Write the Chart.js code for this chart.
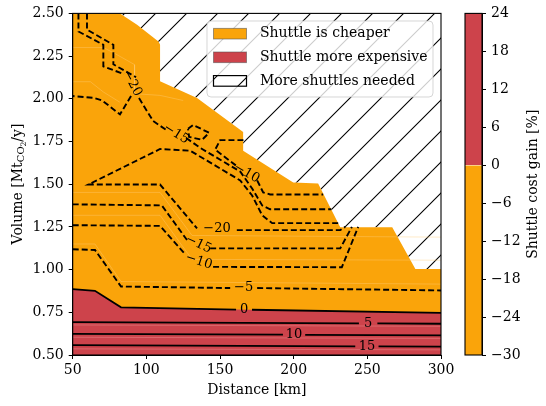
<!DOCTYPE html>
<html>
<head>
<meta charset="utf-8">
<script src="https://cdn.jsdelivr.net/npm/chart.js@4.4.1/dist/chart.umd.min.js"></script>
<style>
  html, body { margin: 0; padding: 0; background: #fff; }
  #wrap { position: relative; width: 546px; height: 406px; }
  #wrap canvas { position: absolute; left: 0; top: 0; }
</style>
</head>
<body>
<div id="wrap">
  <canvas id="main" width="546" height="406"></canvas>
  <canvas id="cbar" width="546" height="406"></canvas>
</div>
<script>
// ---- axes ----
const xTicks = [50, 100, 150, 200, 250, 300];
const yTicks = [0.5, 0.75, 1.0, 1.25, 1.5, 1.75, 2.0, 2.25, 2.5];
const cbarTicks = [-30, -24, -18, -12, -6, 0, 6, 12, 18, 24];

// ---- regions (distance km, volume Mt/y) ----
// upper edge of the feasible area; above it more shuttles are needed
const feasibleEdge = [[50, 2.5], [82.1, 2.5], [93.7, 2.434], [108.2, 2.335], [109.3, 2.318], [109.3, 2.103],
  [134.4, 2.004], [165.7, 1.806], [165.7, 1.696], [199.7, 1.51], [216.6, 1.504], [231.6, 1.248],
  [266.9, 1.248], [282.6, 1.004], [300, 1.004]];

// ---- contour lines (null = break for the inline label) ----
const lvlM20a = [[53.9, 2.5], [53.9, 2.394], [70.8, 2.316], [70.8, 2.19], [84.9, 2.144], null,
  [89.6, 2.016], [82.1, 1.909], [70, 1.99], [64.0, 2.006], [50, 2.016]];
const lvlM15a = [[59.7, 2.5], [59.7, 2.405], [77.6, 2.316], [77.6, 2.202], [93.0, 2.126], null,
  [95.0, 2.004], [104.6, 1.87], [113.4, 1.818], null,
  [127.0, 1.771], [136.5, 1.713], [163.7, 1.574], [171.8, 1.475], [178.6, 1.376], [184.0, 1.353], [225.5, 1.353]];
const lvlM15loop = [[128.3, 1.824], [131.7, 1.847], [142.6, 1.801], [137.8, 1.76], [129.0, 1.777], [128.3, 1.824]];
const lvlM10a = [[165.9, 1.758], [150.1, 1.758], [146.7, 1.702], [160.9, 1.609], null,
  [175.2, 1.522], [179.3, 1.452], [184.0, 1.44], [220.0, 1.44]];
const lvlM20b = [[230.2, 1.272], [185.4, 1.272], [178.6, 1.318], [171.8, 1.434], [163.7, 1.522], [141.2, 1.638],
  [129.7, 1.696], [109.3, 1.706], [60.6, 1.498], [109.3, 1.498], [134.4, 1.241], null,
  [161.4, 1.231], [231.6, 1.231], [235.0, 1.25]];
const lvlM15b = [[50, 1.382], [110.5, 1.376], [127.6, 1.173], null, [143.3, 1.124], [231.6, 1.124], [239.5, 1.25]];
const lvlM10b = [[50, 1.26], [109.3, 1.256], [126.3, 1.091], null, [145.3, 1.016], [232.7, 1.014], [243.8, 1.25]];
const lvlM5 = [[50, 1.119], [65.1, 1.115], [82.8, 0.901], [156.9, 0.892], null, [175.2, 0.892], [300, 0.878]];
const lvl0 = [[50, 0.886], [65.1, 0.876], [82.8, 0.779], [160.9, 0.766], null, [171.7, 0.765], [300, 0.747]];
const lvl5 = [[50, 0.692], [244.3, 0.685], null, [256.8, 0.685], [300, 0.683]];
const lvl10 = [[50, 0.624], [192.7, 0.619], null, [207.8, 0.618], [300, 0.615]];
const lvl15 = [[50, 0.558], [241.8, 0.551], null, [257.6, 0.551], [300, 0.549]];

// faint band seams of the filled contours
const seamsRed = [
  [[50, 0.676], [300, 0.668]],
  [[50, 0.604], [300, 0.597]],
  [[50, 0.536], [300, 0.53]]
];
const seamsOrange = [
  [[50, 1.452], [109.3, 1.452], [131, 1.2], [300, 1.19]],
  [[50, 1.318], [109.3, 1.318], [131, 1.06], [300, 1.055]],
  [[50, 1.15], [65.1, 1.15], [82.8, 0.93], [300, 0.915]],
  [[50, 2.3], [70.8, 2.3], [77.6, 2.27], [92, 2.2], [92, 2.03], [109.3, 2.02], [125, 1.99]],
  [[50, 2.1], [62, 2.1], [70.8, 2.04], [82, 1.98]]
];

// inline labels: text, distance, volume, angle (deg)
const contourLabels = [
  ['\u221220', 90.3, 2.091, 62],
  ['\u221215', 120.2, 1.795, 32],
  ['\u221210', 168.1, 1.565, 30],
  ['\u221220', 148.0, 1.237, 0],
  ['\u221215', 135.4, 1.149, 25],
  ['\u221210', 135.6, 1.048, 18],
  ['\u22125', 166.0, 0.893, 0],
  ['0', 166.3, 0.766, 0],
  ['5', 250.5, 0.684, 0],
  ['10', 200.3, 0.618, 0],
  ['15', 249.7, 0.551, 0]
];

const legendItems = ['Shuttle is cheaper', 'Shuttle more expensive', 'More shuttles needed'];

const ORANGE = '#FAA40A';
const RED = '#CD434B';
const SERIF = '"DejaVu Serif", serif';
const FS = 14;

const toPts = arr => arr.filter(p => p).map(([x, y]) => ({ x, y }));
function pieces(arr) {
  const out = [[]];
  arr.forEach(p => { if (p) out[out.length - 1].push({ x: p[0], y: p[1] }); else out.push([]); });
  return out.filter(s => s.length > 1);
}

// diagonal hatch, lines x + y = 14 (mod 31)
function makeHatch() {
  const c = document.createElement('canvas');
  c.width = 31; c.height = 31;
  const g = c.getContext('2d');
  g.fillStyle = '#fff';
  g.fillRect(0, 0, 31, 31);
  g.strokeStyle = '#000';
  g.lineWidth = 1.1;
  g.beginPath();
  g.moveTo(-1, 15); g.lineTo(15, -1);
  g.moveTo(13, 32); g.lineTo(32, 13);
  g.stroke();
  return g.createPattern(c, 'repeat');
}
const hatch = makeHatch();

const datasets = [
  { data: toPts(feasibleEdge), fill: 'end', backgroundColor: hatch, borderColor: 'transparent', borderWidth: 0, order: 10 },
  { data: toPts(feasibleEdge), fill: 'start', backgroundColor: ORANGE, borderColor: 'transparent', borderWidth: 0, order: 9 },
  { data: toPts(lvl0), fill: 'start', backgroundColor: RED, borderColor: 'transparent', borderWidth: 0, order: 8 }
];

seamsRed.forEach(s => datasets.push({ data: toPts(s), fill: false, borderColor: 'rgba(240,150,150,0.55)', borderWidth: 0.8, order: 5 }));
seamsOrange.forEach(s => datasets.push({ data: toPts(s), fill: false, borderColor: 'rgba(255,205,120,0.5)', borderWidth: 0.8, order: 6 }));

function addLevel(arr, dashed) {
  pieces(arr).forEach(seg => datasets.push({
    data: seg, fill: false, borderColor: '#000', borderWidth: dashed ? 1.9 : 1.8,
    borderDash: dashed ? [6, 3] : [], order: 1
  }));
}
[lvlM20a, lvlM15a, lvlM15loop, lvlM10a, lvlM20b, lvlM15b, lvlM10b, lvlM5].forEach(a => addLevel(a, true));
[lvl0, lvl5, lvl10, lvl15].forEach(a => addLevel(a, false));

const tickFont = { family: SERIF, size: FS };

const mainDecor = {
  id: 'mainDecor',
  afterDatasetsDraw(chart) {
    const { ctx, chartArea: a, scales: { x, y } } = chart;
    ctx.save();
    // contour labels
    ctx.fillStyle = '#000';
    ctx.font = `13px ${SERIF}`;
    ctx.textAlign = 'center';
    ctx.textBaseline = 'middle';
    contourLabels.forEach(([t, dx, dy, rot]) => {
      ctx.save();
      ctx.translate(x.getPixelForValue(dx), y.getPixelForValue(dy));
      ctx.rotate(rot * Math.PI / 180);
      ctx.fillText(t, 0, 0);
      ctx.restore();
    });
    // axes frame
    ctx.strokeStyle = '#000';
    ctx.lineWidth = 1.1;
    ctx.strokeRect(a.left, a.top, a.right - a.left, a.bottom - a.top);

    // legend
    const bx = 207, by = 21, bw = 226, bh = 76;
    ctx.beginPath();
    ctx.roundRect(bx, by, bw, bh, 4);
    ctx.fillStyle = 'rgba(255,255,255,0.8)';
    ctx.fill();
    ctx.strokeStyle = 'rgba(204,204,204,0.8)';
    ctx.lineWidth = 1;
    ctx.stroke();
    const fills = [ORANGE, RED, hatch];
    legendItems.forEach((label, i) => {
      const cy = 33.7 + i * 23.6;
      ctx.fillStyle = fills[i];
      ctx.fillRect(213.5, cy - 5.3, 33, 10.6);
      ctx.strokeStyle = i === 2 ? '#000' : 'rgba(80,80,80,0.55)';
      ctx.lineWidth = i === 2 ? 1.2 : 1;
      ctx.strokeRect(213.5, cy - 5.3, 33, 10.6);
      ctx.fillStyle = '#000';
      ctx.font = `${FS}px ${SERIF}`;
      ctx.textAlign = 'left';
      ctx.textBaseline = 'middle';
      ctx.fillText(label, 260, cy);
    });

    // y title with subscript
    ctx.translate(18, 184);
    ctx.rotate(-Math.PI / 2);
    ctx.textBaseline = 'middle';
    ctx.textAlign = 'left';
    const parts = [['Volume [Mt', FS, 0], ['CO', 10, 3.5], ['2', 7.5, 6], ['/y]', FS, 0]];
    let w = 0;
    parts.forEach(([t, s]) => { ctx.font = `${s}px ${SERIF}`; w += ctx.measureText(t).width; });
    let px = -w / 2;
    parts.forEach(([t, s, dy]) => {
      ctx.font = `${s}px ${SERIF}`;
      ctx.fillText(t, px, dy);
      px += ctx.measureText(t).width;
    });
    ctx.restore();
  }
};

new Chart(document.getElementById('main'), {
  type: 'scatter',
  data: { datasets },
  options: {
    responsive: false,
    animation: false,
    showLine: true,
    layout: { padding: { left: 0, right: 105, top: 11.7, bottom: 0 } },
    elements: { point: { radius: 0, hoverRadius: 0 }, line: { tension: 0 } },
    plugins: { legend: { display: false }, tooltip: { enabled: false } },
    scales: {
      x: {
        type: 'linear', min: 50, max: 300,
        afterBuildTicks: s => { s.ticks = xTicks.map(v => ({ value: v })); },
        afterFit: s => { s.height = 51; },
        grid: { drawOnChartArea: false, drawTicks: true, tickLength: 4, color: '#000' },
        border: { display: true, color: '#000', width: 1 },
        ticks: { color: '#000', font: tickFont, padding: 3, maxRotation: 0 },
        title: { display: true, text: 'Distance [km]', color: '#000', font: tickFont, padding: { top: 0, bottom: 7 } }
      },
      y: {
        type: 'linear', min: 0.5, max: 2.5,
        afterBuildTicks: s => { s.ticks = yTicks.map(v => ({ value: v })); },
        afterFit: s => { s.width = 72.7; },
        grid: { drawOnChartArea: false, drawTicks: true, tickLength: 4, color: '#000' },
        border: { display: true, color: '#000', width: 1 },
        ticks: { color: '#000', font: tickFont, padding: 5, callback: v => v.toFixed(2) }
      }
    }
  },
  plugins: [mainDecor]
});

// ---- colorbar ----
const cbarDecor = {
  id: 'cbarDecor',
  afterDatasetsDraw(chart) {
    const { ctx, chartArea: a } = chart;
    ctx.save();
    ctx.strokeStyle = '#000';
    ctx.lineWidth = 1.1;
    ctx.strokeRect(a.left, a.top, a.right - a.left, a.bottom - a.top);
    ctx.translate(533, (a.top + a.bottom) / 2);
    ctx.rotate(-Math.PI / 2);
    ctx.fillStyle = '#000';
    ctx.font = `${FS}px ${SERIF}`;
    ctx.textAlign = 'center';
    ctx.textBaseline = 'middle';
    ctx.fillText('Shuttle cost gain [%]', 0, 0);
    ctx.restore();
  }
};

new Chart(document.getElementById('cbar'), {
  type: 'bar',
  data: {
    labels: [''],
    datasets: [
      { data: [[cbarTicks[0], 0]], backgroundColor: ORANGE },
      { data: [[0, cbarTicks[cbarTicks.length - 1]]], backgroundColor: RED }
    ]
  },
  options: {
    responsive: false,
    animation: false,
    grouped: false,
    barPercentage: 1,
    categoryPercentage: 1,
    layout: { padding: { left: 465, right: 0, top: 11.7, bottom: 51 } },
    plugins: { legend: { display: false }, tooltip: { enabled: false } },
    scales: {
      x: { display: false },
      y: {
        position: 'right', min: -30, max: 24,
        afterBuildTicks: s => { s.ticks = cbarTicks.map(v => ({ value: v })); },
        afterFit: s => { s.width = 64; },
        grid: { drawOnChartArea: false, drawTicks: true, tickLength: 4, color: '#000' },
        border: { display: true, color: '#000', width: 1 },
        ticks: { color: '#000', font: tickFont, padding: 5, callback: v => (v < 0 ? '\u2212' + Math.abs(v) : String(v)) }
      }
    }
  },
  plugins: [cbarDecor]
});
</script>
</body>
</html>
